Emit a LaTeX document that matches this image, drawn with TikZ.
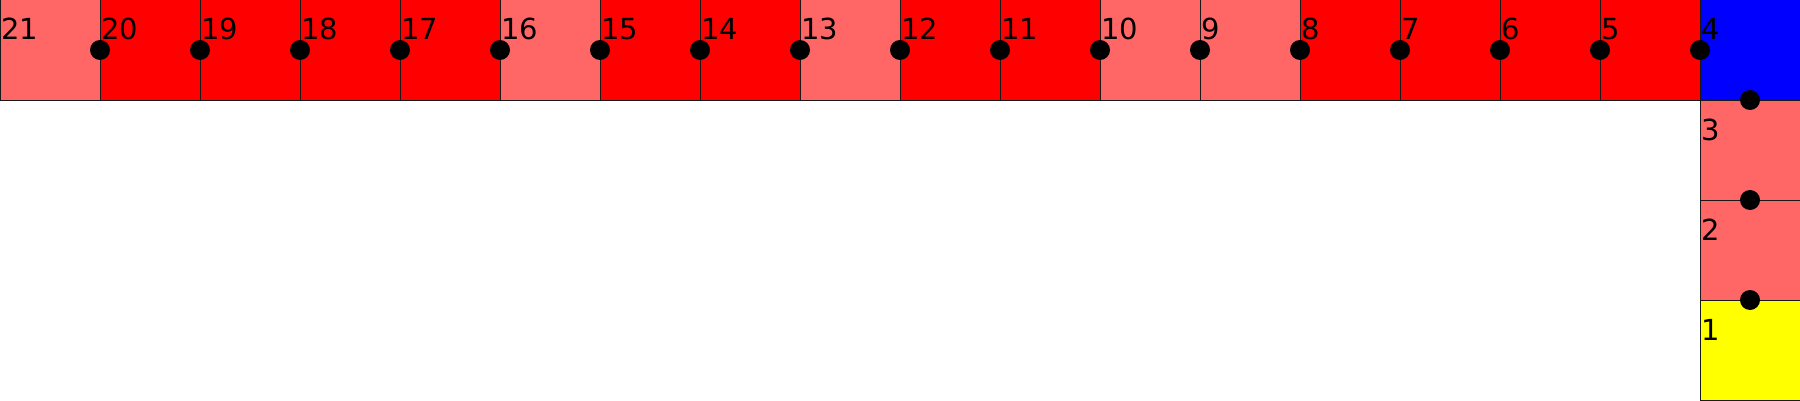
\documentclass[tikz,border=0pt]{standalone}
\usepackage{fontspec}
\setmainfont{DejaVu Sans}
\definecolor{lred}{HTML}{FF6666}
\definecolor{fred}{HTML}{FF0000}
\definecolor{fblue}{HTML}{0000FF}
\definecolor{fyel}{HTML}{FFFF00}
\begin{document}
\begin{tikzpicture}[x=1pt,y=1pt,
  cell/.style={draw=black!90,line width=1pt,minimum width=100pt,minimum height=100pt,inner sep=0pt,outer sep=0pt,anchor=south west},
  lab/.style={anchor=base west,inner sep=0pt,font=\fontsize{29}{29}\selectfont},
  dot/.style={circle,fill=black,minimum size=20pt,inner sep=0pt}]
\useasboundingbox (0,0) rectangle (1800,400);
% top row: labels 21..5
\foreach \n/\c [count=\k from 0] in {21/lred,20/fred,19/fred,18/fred,17/fred,16/lred,15/fred,14/fred,13/lred,12/fred,11/fred,10/lred,9/lred,8/fred,7/fred,6/fred,5/fred}{
  \node[cell,fill=\c] (c\n) at (100*\k,300) {};
  \node[lab] (t\n) at ([shift={(1pt,-40pt)}]c\n.north west) {\n};
}
% column
\node[cell,fill=fblue] (c4) at (1700,300) {};
\node[cell,fill=lred] (c3) at (1700,200) {};
\node[cell,fill=lred] (c2) at (1700,100) {};
\node[cell,fill=fyel] (c1) at (1700,0) {};
\foreach \n in {4,3,2,1}{
  \node[lab] (t\n) at ([shift={(1pt,-40pt)}]c\n.north west) {\n};
}
% dots
\foreach \n in {20,19,18,17,16,15,14,13,12,11,10,9,8,7,6,5,4}{
  \node[dot] (d\n) at (c\n.west) {};
}
\node[dot] (d3) at (c3.north) {};
\node[dot] (d2) at (c2.north) {};
\node[dot] (d1) at (c1.north) {};
\end{tikzpicture}
\end{document}
